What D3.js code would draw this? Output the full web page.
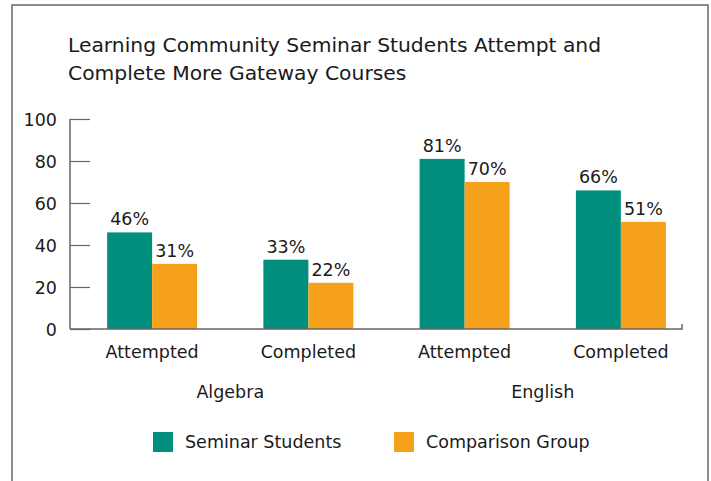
<!DOCTYPE html>
<html><head><meta charset="utf-8">
<script src="https://cdn.jsdelivr.net/npm/d3@7"></script>
<style>body{margin:0;background:#fff}svg{display:block}text{font-family:"DejaVu Sans",sans-serif;fill:#1a1a1a}</style>
</head><body><svg id="c" width="711" height="481"></svg>
<script>
const categories = ["Attempted","Completed","Attempted","Completed"];
const groups = ["Algebra","English"];
const groupOf = [0,0,1,1];
const seriesNames = ["Seminar Students","Comparison Group"];
const seminar = [46,33,81,66];
const comparison = [31,22,70,51];
const yTicks = [0,20,40,60,80,100];
const colors = ["#008f7c","#f5a11c"];
const titleLines = ["Learning Community Seminar Students Attempt and","Complete More Gateway Courses"];

const svg = d3.select("#c");
// frame
svg.append("path").attr("d","M12,500 V5 H708 V500").attr("fill","none").attr("stroke","#5f6b78").attr("stroke-width",1.5);

svg.append("text").attr("x",68).attr("y",52).attr("font-size",20.3).text(titleLines[0]);
svg.append("text").attr("x",68).attr("y",80).attr("font-size",20.3).text(titleLines[1]);

const y = d3.scaleLinear().domain([0,100]).range([329,119]);
const x = d3.scaleBand().domain(d3.range(categories.length)).range([74,699]).paddingInner(0.424).paddingOuter(0.212);
const xs = d3.scaleBand().domain([0,1]).range([0,x.bandwidth()]);

// y axis
const yAxis = svg.append("g").attr("transform","translate(70,0)")
  .call(d3.axisRight(y).tickValues(yTicks).tickSize(20).tickFormat(""));
yAxis.select(".domain").remove();
yAxis.selectAll("line").attr("stroke","#666").attr("stroke-width",1.2);
svg.append("line").attr("x1",70).attr("x2",70).attr("y1",y(100)).attr("y2",y(0)).attr("stroke","#666").attr("stroke-width",1.5);
svg.selectAll(".yl").data(yTicks).join("text").attr("x",57).attr("y",d=>y(d)+6.5)
  .attr("text-anchor","end").attr("font-size",17.5).text(d=>d);

// bars
const series = [seminar, comparison];
series.forEach((vals,si)=>{
  svg.selectAll(".b"+si).data(vals).join("rect")
    .attr("x",(d,i)=>x(i)+xs(si)).attr("width",xs.bandwidth())
    .attr("y",d=>y(d)).attr("height",d=>y(0)-y(d)).attr("fill",colors[si]);
  svg.selectAll(".l"+si).data(vals).join("text")
    .attr("x",(d,i)=>x(i)+xs(si)+xs.bandwidth()/2).attr("y",d=>y(d)-7)
    .attr("text-anchor","middle").attr("font-size",17.5).text(d=>d+"%");
});

// x axis line
svg.append("path").attr("d",`M70,${y(0)} H682 V${y(0)-5}`).attr("fill","none").attr("stroke","#666").attr("stroke-width",1.5);

svg.selectAll(".cl").data(categories).join("text")
  .attr("x",(d,i)=>x(i)+x.bandwidth()/2).attr("y",358).attr("text-anchor","middle").attr("font-size",17.5).text(d=>d);
groups.forEach((g,gi)=>{
  const idx = d3.range(categories.length).filter(i=>groupOf[i]===gi);
  const cx = d3.mean(idx,i=>x(i)+x.bandwidth()/2);
  svg.append("text").attr("x",cx).attr("y",398).attr("text-anchor","middle").attr("font-size",17.5).text(g);
});

// legend
const legX = [153,394];
seriesNames.forEach((n,i)=>{
  svg.append("rect").attr("x",legX[i]).attr("y",432).attr("width",20).attr("height",20).attr("fill",colors[i]);
  svg.append("text").attr("x",legX[i]+32).attr("y",448).attr("font-size",17.5).text(n);
});
</script></body></html>
